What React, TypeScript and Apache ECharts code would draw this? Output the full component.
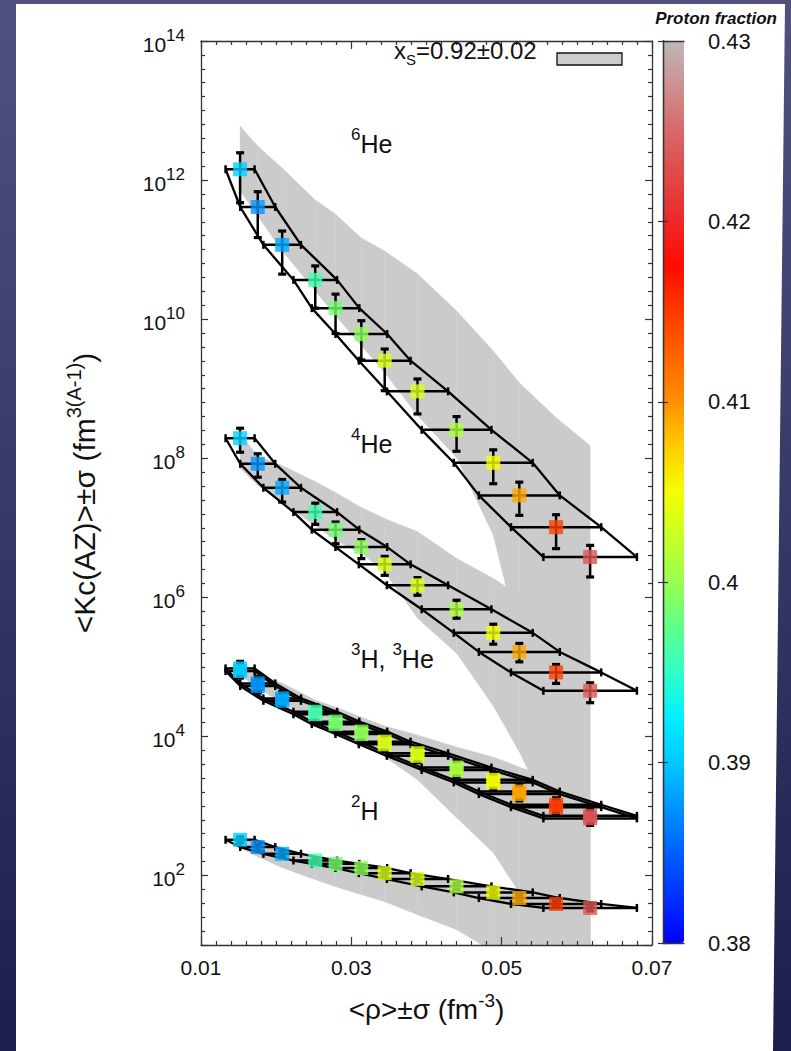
import React, { useEffect, useRef } from 'react';
import * as echarts from 'echarts';

// ---------------- data ----------------
// mean density <rho> (fm^-3) and its sigma, common to all clusters
const density = [0.0152, 0.01755, 0.0208, 0.0252, 0.0279, 0.03133, 0.03444, 0.0388, 0.044, 0.04888, 0.05235, 0.05724, 0.06177];
const densitySigma = [0.00193, 0.00233, 0.0025, 0.0029, 0.00316, 0.00344, 0.00344, 0.00407, 0.00464, 0.00525, 0.00538, 0.006, 0.00622];
// proton fraction (colour scale)
const protonFraction = [0.3905, 0.3875, 0.3885, 0.396, 0.3985, 0.3995, 0.4035, 0.4035, 0.401, 0.405, 0.409, 0.4148, 0.4235];

// <Kc(AZ)> values and error bars
const kcHe6 = [1.43e12, 4.1e11, 1.17e11, 3.67e10, 1.44e10, 6.11e9, 2.53e9, 9.16e8, 2.56e8, 8.59e7, 2.92e7, 1.02e7, 3.79e6];
const kcHe6Lo = [4.73e11, 1.49e11, 4.44e10, 1.44e10, 6.22e9, 2.59e9, 9.37e8, 4.34e8, 1.26e8, 4.3e7, 1.51e7, 5.01e6, 1.96e6];
const kcHe6Hi = [2.47e12, 6.8e11, 1.85e11, 5.83e10, 2.29e10, 9.5e9, 3.72e9, 1.38e9, 3.97e8, 1.32e8, 4.53e7, 1.54e7, 5.58e6];

const kcHe4 = [1.94e8, 8.32e7, 3.76e7, 1.68e7, 9.38e6, 5.28e6, 2.98e6, 1.49e6, 6.73e5, 3.08e5, 1.64e5, 8.32e4, 4.53e4];
const kcHe4Lo = [1.22e8, 5.34e7, 2.34e7, 1.12e7, 5.9e6, 3.6e6, 2.07e6, 1.07e6, 5.0e5, 2.12e5, 1.18e5, 5.78e4, 3.05e4];
const kcHe4Hi = [2.7e8, 1.16e8, 4.95e7, 2.26e7, 1.21e7, 6.75e6, 3.88e6, 1.92e6, 9.08e5, 4.1e5, 2.17e5, 1.08e5, 5.9e4];

const kcH3 = [9.49e4, 5.78e4, 3.52e4, 2.26e4, 1.63e4, 1.17e4, 8.39e3, 5.72e3, 3.56e3, 2.37e3, 1.61e3, 1.04e3, 720];
const kcH3Lo = [7.5e4, 4.6e4, 2.8e4, 1.8e4, 1.3e4, 9.3e3, 6.7e3, 4.5e3, 2.8e3, 1.9e3, 1.28e3, 830, 570];
const kcH3Hi = [1.2e5, 7.3e4, 4.4e4, 2.85e4, 2.05e4, 1.47e4, 1.06e4, 7.2e3, 4.5e3, 3.0e3, 2.03e3, 1.31e3, 910];

const kcHe3 = [8.7e4, 5.3e4, 3.25e4, 2.08e4, 1.5e4, 1.08e4, 7.7e3, 5.25e3, 3.28e3, 2.18e3, 1.48e3, 960, 662];
const kcHe3Lo = [6.9e4, 4.2e4, 2.6e4, 1.65e4, 1.19e4, 8.6e3, 6.1e3, 4.2e3, 2.6e3, 1.73e3, 1.18e3, 760, 525];
const kcHe3Hi = [1.1e5, 6.7e4, 4.1e4, 2.6e4, 1.89e4, 1.36e4, 9.7e3, 6.6e3, 4.1e3, 2.75e3, 1.86e3, 1.21e3, 835];

const kcH2 = [326, 256, 205, 164, 147, 128, 108, 88.9, 69.7, 57.1, 47.4, 38.9, 34.1];
const kcH2Lo = [295, 232, 186, 149, 133, 116, 98, 80.5, 63.2, 51.8, 43, 35.3, 30.9];
const kcH2Hi = [360, 282, 226, 181, 162, 141, 119, 98, 76.9, 63, 52.3, 42.9, 37.6];

// grey bands: x_S = 0.92 +- 0.02 (upper / lower edge at each density)
const bandHe6Hi = [5.97e12, 3.08e12, 1.49e12, 5.17e11, 3.25e11, 1.47e11, 9.58e10, 4.5e10, 1.32e10, 3.52e9, 1.22e9, 3.84e8, 1.52e8];
const bandHe6Lo = [6.97e11, 3.05e11, 9.58e10, 2.55e10, 1.12e10, 4.15e9, 1.7e9, 4.1e8, 1.02e8, 7.78e6, 2.42e5, 1, 1];
const bandHe4Hi = [2.2e8, 1.09e8, 7.86e7, 4.63e7, 3.22e7, 1.96e7, 1.36e7, 8.87e6, 3.64e6, 1.88e6, 1.07e6, 4.69e5, 2.05e5];
const bandHe4Lo = [7.12e7, 4.06e7, 2.24e7, 1.08e7, 6.59e6, 4.29e6, 2.29e6, 5.0e5, 1.57e5, 2.73e4, 5.97e3, 484, 1];
const bandH3Hi = [1.13e5, 7.87e4, 5.84e4, 3.33e4, 2.64e4, 1.9e4, 1.41e4, 1.05e4, 7.05e3, 5.06e3, 3.64e3, 2.37e3, 1.22e3];
const bandH3Lo = [7.6e4, 4.95e4, 3.01e4, 1.61e4, 1.16e4, 7.78e3, 5.06e3, 2.37e3, 674, 212, 56.5, 1, 1];
const bandH2Hi = [372, 305, 242, 186, 168, 147, 129, 106, 81.3, 66.7, 56.5, 44.9, 38];
const bandH2Lo = [250, 186, 129, 86.9, 68.9, 52.9, 42, 27.3, 16.6, 8.0, 1, 1, 1];

// colour scale
const colorMin = 0.38;
const colorMax = 0.43;
const colorScale = ['#0000ff', '#0030ff', '#0060ff', '#0094ff', '#00c8ff', '#00f0ff', '#30ffc8', '#60ff88', '#98ff50', '#c8ff28', '#f4ff00', '#ffcc00', '#ff9000', '#ff6400', '#ff3a00', '#ff0a00', '#ee2828', '#e04848', '#d86868', '#cc9090', '#c0b8b8'];

// axes
const xMin = 0.01;
const xMax = 0.07;
const xStep = 0.02;
const yMinExp = 1;
const yMaxExp = 14;

// ---------------- helpers ----------------
const FONT = '"Liberation Sans", Arial, Helvetica, sans-serif';
const TXT = '#111111';
const lg = (v: number) => Math.log10(v);

function bandData(hi: number[], lo: number[]) {
  const out: number[][] = [];
  for (let i = 0; i < density.length - 1; i++) {
    out.push([density[i], lg(hi[i]), lg(lo[i]), density[i + 1], lg(hi[i + 1]), lg(lo[i + 1])]);
  }
  return out;
}

function renderBand(_params: any, api: any) {
  const a = api.coord([api.value(0), api.value(1)]);
  const b = api.coord([api.value(3), api.value(4)]);
  const c = api.coord([api.value(3), api.value(5)]);
  const d = api.coord([api.value(0), api.value(2)]);
  return {
    type: 'polygon',
    shape: { points: [a, b, c, d] },
    style: { fill: '#cbcbcb', stroke: '#cbcbcb', lineWidth: 0.3 },
  };
}

function renderErr(_params: any, api: any) {
  const x = api.value(0), y = api.value(1);
  const l = api.coord([api.value(2), y]);
  const r = api.coord([api.value(3), y]);
  const t = api.coord([x, api.value(5)]);
  const b = api.coord([x, api.value(4)]);
  const s = { stroke: '#000', lineWidth: 2.5 };
  const sc = { stroke: '#000', lineWidth: 3.2 };
  const cap = 4;
  return {
    type: 'group',
    children: [
      { type: 'line', shape: { x1: l[0], y1: l[1], x2: r[0], y2: r[1] }, style: s },
      { type: 'line', shape: { x1: l[0], y1: l[1] - cap, x2: l[0], y2: l[1] + cap }, style: s },
      { type: 'line', shape: { x1: r[0], y1: r[1] - cap, x2: r[0], y2: r[1] + cap }, style: s },
      { type: 'line', shape: { x1: t[0], y1: t[1], x2: b[0], y2: b[1] }, style: s },
      { type: 'line', shape: { x1: t[0] - cap, y1: t[1], x2: t[0] + cap, y2: t[1] }, style: sc },
      { type: 'line', shape: { x1: b[0] - cap, y1: b[1], x2: b[0] + cap, y2: b[1] }, style: sc },
    ],
  };
}

function buildOption() {
  const bands = [
    { hi: bandHe6Hi, lo: bandHe6Lo },
    { hi: bandHe4Hi, lo: bandHe4Lo },
    { hi: bandH3Hi, lo: bandH3Lo },
    { hi: bandH2Hi, lo: bandH2Lo },
  ];
  const sets = [
    { name: '6He', v: kcHe6, lo: kcHe6Lo, hi: kcHe6Hi },
    { name: '4He', v: kcHe4, lo: kcHe4Lo, hi: kcHe4Hi },
    { name: '3H', v: kcH3, lo: kcH3Lo, hi: kcH3Hi },
    { name: '3He', v: kcHe3, lo: kcHe3Lo, hi: kcHe3Hi },
    { name: '2H', v: kcH2, lo: kcH2Lo, hi: kcH2Hi },
  ];
  const series: any[] = [];
  bands.forEach((b) => {
    series.push({ type: 'custom', name: 'xs', z: 1, clip: true, silent: true, renderItem: renderBand, data: bandData(b.hi, b.lo) });
  });
  sets.forEach((p) => {
    series.push({
      type: 'custom', name: p.name + ' err', z: 3, clip: true, silent: true, renderItem: renderErr,
      data: density.map((d, i) => [d, lg(p.v[i]), d - densitySigma[i], d + densitySigma[i], lg(p.lo[i]), lg(p.hi[i])]),
    });
    series.push({
      type: 'line', name: p.name + ' left', z: 3, symbol: 'none', silent: true,
      lineStyle: { color: '#000', width: 2.3 },
      data: density.map((d, i) => [d - densitySigma[i], lg(p.v[i])]),
    });
    series.push({
      type: 'line', name: p.name + ' right', z: 3, symbol: 'none', silent: true,
      lineStyle: { color: '#000', width: 2.3 },
      data: density.map((d, i) => [d + densitySigma[i], lg(p.v[i])]),
    });
  });
  const scatterIdx: number[] = [];
  sets.forEach((p) => {
    scatterIdx.push(series.length);
    series.push({
      type: 'scatter', name: p.name, z: 5, symbol: 'rect', symbolSize: 14,
      data: density.map((d, i) => [d, lg(p.v[i]), protonFraction[i]]),
    });
  });

  const axisLine = { show: true, lineStyle: { color: '#333', width: 1.3 } };
  const xCommon = {
    type: 'value', min: xMin, max: xMax, interval: xStep, gridIndex: 0, z: 10,
    axisLine, splitLine: { show: false },
    axisTick: { show: true, inside: true, length: 8, lineStyle: { color: '#333', width: 1.2 } },
    minorTick: { show: true, splitNumber: 10, length: 4, lineStyle: { color: '#333', width: 1.2 } },
  };
  const yCommon = {
    type: 'value', min: yMinExp, max: yMaxExp, splitNumber: 7, gridIndex: 0, z: 10,
    axisLine, splitLine: { show: false },
    axisTick: { show: true, inside: true, length: 7, lineStyle: { color: '#333', width: 1.2 } },
    minorTick: { show: true, splitNumber: 10, length: 4, lineStyle: { color: '#333', width: 1.2 } },
  };
  const cbLine = { show: true, lineStyle: { color: '#333', width: 1.3 } };

  return {
    animation: false,
    textStyle: { fontFamily: FONT },
    grid: [
      { left: 201, top: 41, width: 451, height: 904, containLabel: false, outerBoundsMode: 'none' },
      { left: 663, top: 41, width: 21, height: 902, containLabel: false, outerBoundsMode: 'none' },
    ],
    xAxis: [
      {
        ...xCommon, position: 'bottom',
        axisLabel: { show: true, fontSize: 21, color: TXT, fontFamily: FONT, margin: 12, formatter: (v: number) => v.toFixed(2) },
        name: '{m|<ρ>±σ (fm}{s|-3}{m|)}', nameLocation: 'middle', nameGap: 46,
        nameTextStyle: {
          color: TXT,
          rich: {
            m: { fontSize: 28, fontFamily: FONT, color: TXT, verticalAlign: 'bottom' },
            s: { fontSize: 19, fontFamily: FONT, color: TXT, verticalAlign: 'bottom', padding: [0, 0, 13, 0] },
          },
        },
      },
      { ...xCommon, position: 'top', axisLabel: { show: false } },
      { type: 'value', gridIndex: 1, min: 0, max: 1, position: 'bottom', z: 10, axisLine: cbLine, axisTick: { show: false }, axisLabel: { show: false }, splitLine: { show: false } },
      { type: 'value', gridIndex: 1, min: 0, max: 1, position: 'top', z: 10, axisLine: cbLine, axisTick: { show: false }, axisLabel: { show: false }, splitLine: { show: false } },
    ],
    yAxis: [
      {
        ...yCommon, position: 'left',
        axisLabel: {
          show: true, margin: 16, color: TXT,
          formatter: (v: number) => (Math.abs(v % 2) < 1e-9 ? `{b|10}{s|${Math.round(v)}}` : ''),
          rich: {
            b: { fontSize: 21, fontFamily: FONT, color: TXT, verticalAlign: 'bottom' },
            s: { fontSize: 17, fontFamily: FONT, color: TXT, verticalAlign: 'bottom', padding: [0, 0, 11, 0] },
          },
        },
        name: '{m|<Kc(AZ)>±σ (fm}{s|3(A-1)}{m|)}', nameLocation: 'middle', nameGap: 102, nameRotate: 90,
        nameTextStyle: {
          color: TXT,
          rich: {
            m: { fontSize: 30, fontFamily: FONT, color: TXT, verticalAlign: 'bottom' },
            s: { fontSize: 20, fontFamily: FONT, color: TXT, verticalAlign: 'bottom', padding: [0, 0, 15, 0] },
          },
        },
      },
      { ...yCommon, position: 'right', axisLabel: { show: false } },
      {
        type: 'value', gridIndex: 1, min: colorMin, max: colorMax, interval: 0.01, position: 'right', z: 10,
        axisLine: cbLine, splitLine: { show: false },
        axisTick: { show: true, inside: true, length: 5, lineStyle: { color: '#333', width: 1.2 } },
        axisLabel: { show: true, inside: false, margin: 24, fontSize: 22, color: TXT, fontFamily: FONT, formatter: (v: number) => String(Number(v.toFixed(2))) },
      },
      {
        type: 'value', gridIndex: 1, min: colorMin, max: colorMax, interval: 0.01, position: 'left', z: 10,
        axisLine: cbLine, splitLine: { show: false },
        axisTick: { show: true, inside: true, length: 5, lineStyle: { color: '#333', width: 1.2 } },
        axisLabel: { show: false },
      },
    ],
    visualMap: {
      type: 'continuous', min: colorMin, max: colorMax, dimension: 2, seriesIndex: scatterIdx,
      inRange: { color: colorScale }, left: 663, top: 41, itemWidth: 21, itemHeight: 902,
      padding: 0, calculable: false, text: null, show: true, z: 4,
    },
    graphic: [
      { type: 'text', x: 777, y: 10, z: 20, style: { text: 'Proton fraction', fill: '#111', font: 'italic bold 17px "Liberation Sans", Arial, sans-serif', align: 'right', verticalAlign: 'top' } },
      {
        type: 'text', x: 394, y: 67, z: 20,
        style: {
          text: '{m|x}{u|S}{m|=0.92±0.02}', align: 'left', verticalAlign: 'bottom',
          rich: {
            m: { fontSize: 24, fontFamily: FONT, fill: TXT, verticalAlign: 'bottom', padding: [0, 0, 5, 0] },
            u: { fontSize: 15, fontFamily: FONT, fill: TXT, verticalAlign: 'bottom' },
          },
        },
      },
      { type: 'rect', z: 20, shape: { x: 557, y: 53, width: 65, height: 12 }, style: { fill: '#cccccc', stroke: '#111', lineWidth: 1.3 } },
      ...[
        { t: '{s|6}{b|He}', x: 351, y: 156 },
        { t: '{s|4}{b|He}', x: 351, y: 456 },
        { t: '{s|3}{b|H, }{s|3}{b|He}', x: 351, y: 671 },
        { t: '{s|2}{b|H}', x: 351, y: 823 },
      ].map((o) => ({
        type: 'text', x: o.x, y: o.y, z: 20,
        style: {
          text: o.t, align: 'left', verticalAlign: 'bottom',
          rich: {
            b: { fontSize: 25, fontFamily: FONT, fill: TXT, verticalAlign: 'bottom' },
            s: { fontSize: 17, fontFamily: FONT, fill: TXT, verticalAlign: 'bottom', padding: [0, 0, 13, 0] },
          },
        },
      })),
    ],
    series,
  };
}

export default function App() {
  const ref = useRef<HTMLDivElement>(null);
  useEffect(() => {
    if (!ref.current) return;
    const chart = echarts.init(ref.current, null, { renderer: 'svg' });
    chart.setOption(buildOption() as any);
    return () => chart.dispose();
  }, []);
  return (
    <div style={{ position: 'fixed', left: 0, top: 0, width: 791, height: 1051, overflow: 'hidden', background: 'linear-gradient(#50517f, #1c1f4c)' }}>
      <div style={{ position: 'absolute', left: 0, top: 0, width: 791, height: 1051, background: '#ffffff', clipPath: 'polygon(16px 4px, 785px 4px, 773px 1051px, 16px 1051px)' }} />
      <div ref={ref} style={{ position: 'absolute', left: 0, top: 0, width: 791, height: 1051 }} />
    </div>
  );
}
